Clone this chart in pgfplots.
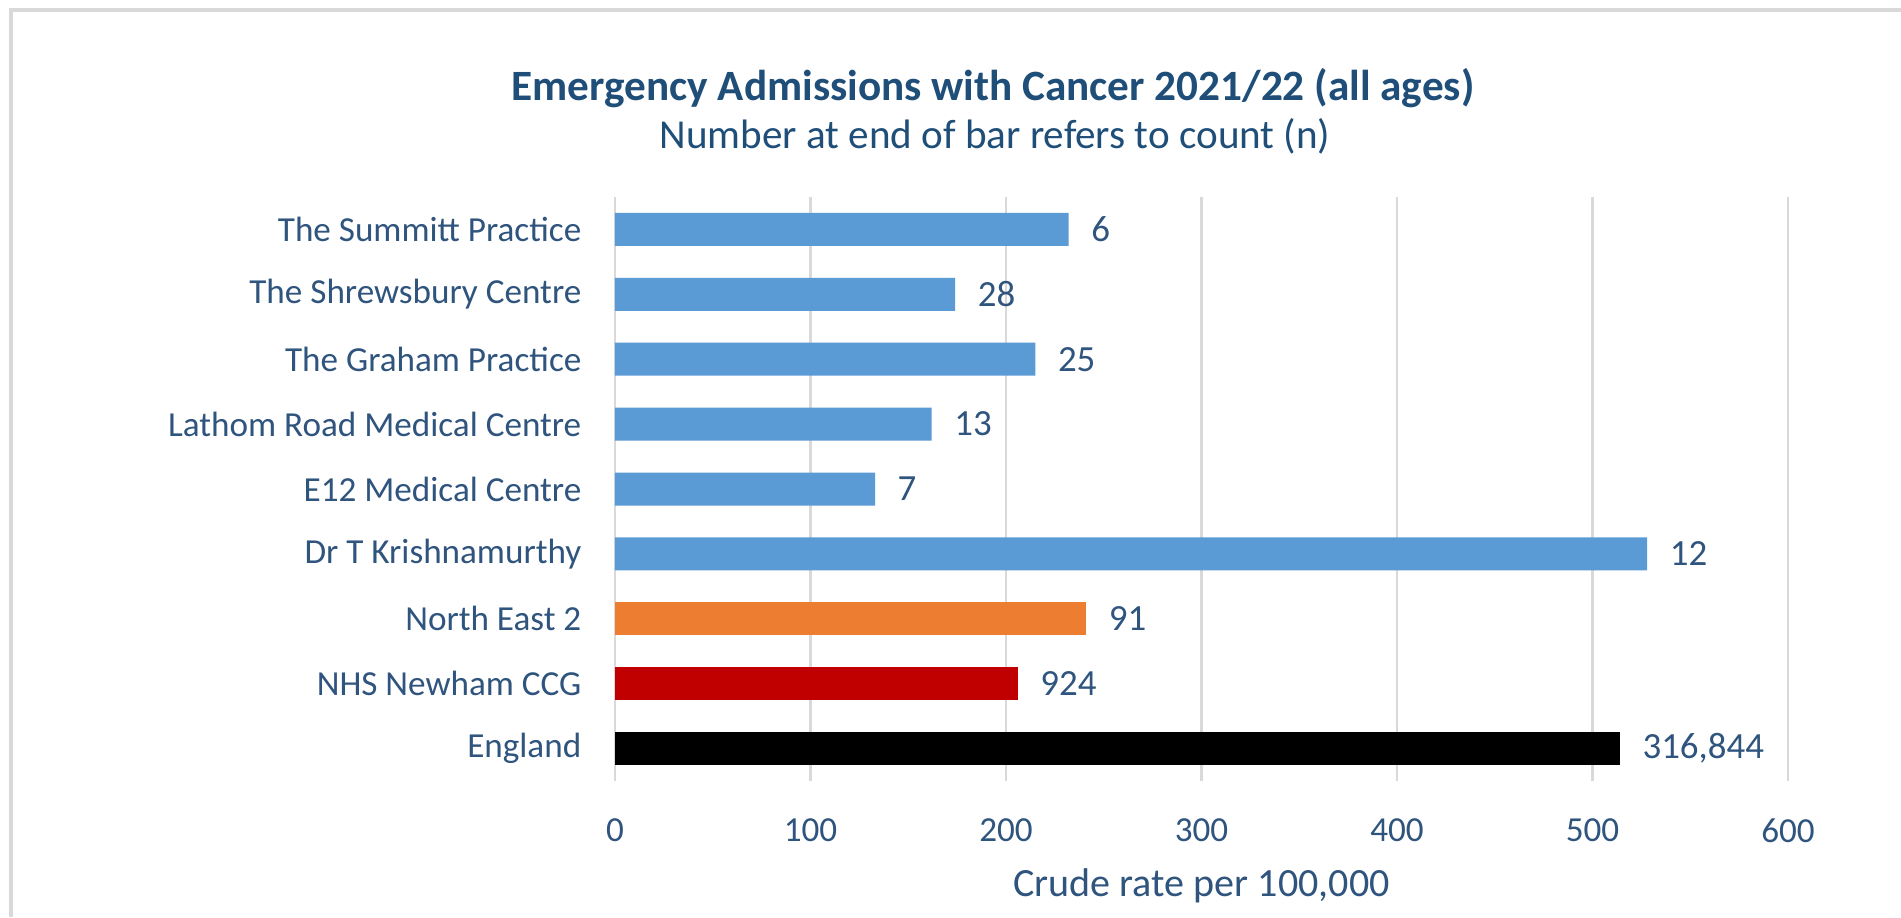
\documentclass[border=0pt]{standalone}
\usepackage{pgfplots}
\pgfplotsset{compat=1.18}
\usepackage{pgfplotstable}
\usepackage{fontspec}
\setmainfont{Carlito}
\definecolor{txt}{RGB}{47,84,125}
\definecolor{ttl}{RGB}{31,78,121}
\definecolor{cblue}{RGB}{91,155,213}
\definecolor{corange}{RGB}{237,125,49}
\definecolor{cred}{RGB}{192,0,0}
\definecolor{grd}{RGB}{217,217,217}

\pgfplotstableread{
y val lab
8 232 6
7 174 28
6 215 25
5 162 13
4 133 7
3 528 12
}\practices
\pgfplotstableread{
y val lab
2 241 91
}\pcn
\pgfplotstableread{
y val lab
1 206 924
}\ccg
\pgfplotstableread{
y val lab
0 514 316,844
}\england

\begin{document}
\begin{tikzpicture}[x=1cm,y=1cm]
\useasboundingbox (0,0) rectangle (19.01,9.17);
\fill[white] (0,0) rectangle (19.01,9.17);
\draw[grd, line width=0.035cm] (0.11,0) -- (0.11,9.07) -- (19.01,9.07);
\begin{axis}[
  at={(6.15cm,1.36cm)}, anchor=south west,
  scale only axis, width=11.73cm, height=5.84cm,
  xmin=0, xmax=600, ymin=-0.5, ymax=8.5,
  xbar, bar width=0.33cm, bar shift=0pt,
  axis line style={draw=none},
  major tick length=0pt,
  xtick={0,100,...,600}, xticklabels={0,100,200,300,400,500,600},
  ytick={0,...,8},
  yticklabels={England, NHS Newham CCG, North East 2, Dr T Krishnamurthy, E12 Medical Centre, Lathom Road Medical Centre, The Graham Practice, The Shrewsbury Centre, The Summitt Practice},
  xmajorgrids=true, ymajorgrids=false,
  major grid style={grd, line width=0.028cm},
  yticklabel style={font=\fontsize{10}{12}\selectfont, text=txt, anchor=east, inner sep=0pt, xshift=-0.33cm},
  xticklabel style={font=\fontsize{10}{12}\selectfont, text=txt, anchor=north, inner sep=0pt, yshift=-0.37cm},
  xlabel={Crude rate per 100,000},
  xlabel style={font=\fontsize{11.4}{13}\selectfont, text=txt, at={(axis description cs:0.5,0)}, anchor=center, yshift=-1.05cm},
  nodes near coords, point meta=explicit symbolic,
  every node near coord/.append style={font=\fontsize{10.5}{12}\selectfont, text=txt, anchor=west, inner sep=0pt, xshift=0.22cm},
]
\addplot[fill=cblue, draw=none] table[x=val, y=y, meta=lab] {\practices};
\addplot[fill=corange, draw=none] table[x=val, y=y, meta=lab] {\pcn};
\addplot[fill=cred, draw=none] table[x=val, y=y, meta=lab] {\ccg};
\addplot[fill=black, draw=none] table[x=val, y=y, meta=lab] {\england};
\end{axis}
\node[font=\bfseries\fontsize{12.3}{15}\selectfont, text=ttl] at (9.93,8.29) {Emergency Admissions with Cancer 2021/22 (all ages)};
\node[font=\fontsize{11.7}{14}\selectfont, text=ttl] at (9.95,7.81) {Number at end of bar refers to count (n)};
\end{tikzpicture}
\end{document}
